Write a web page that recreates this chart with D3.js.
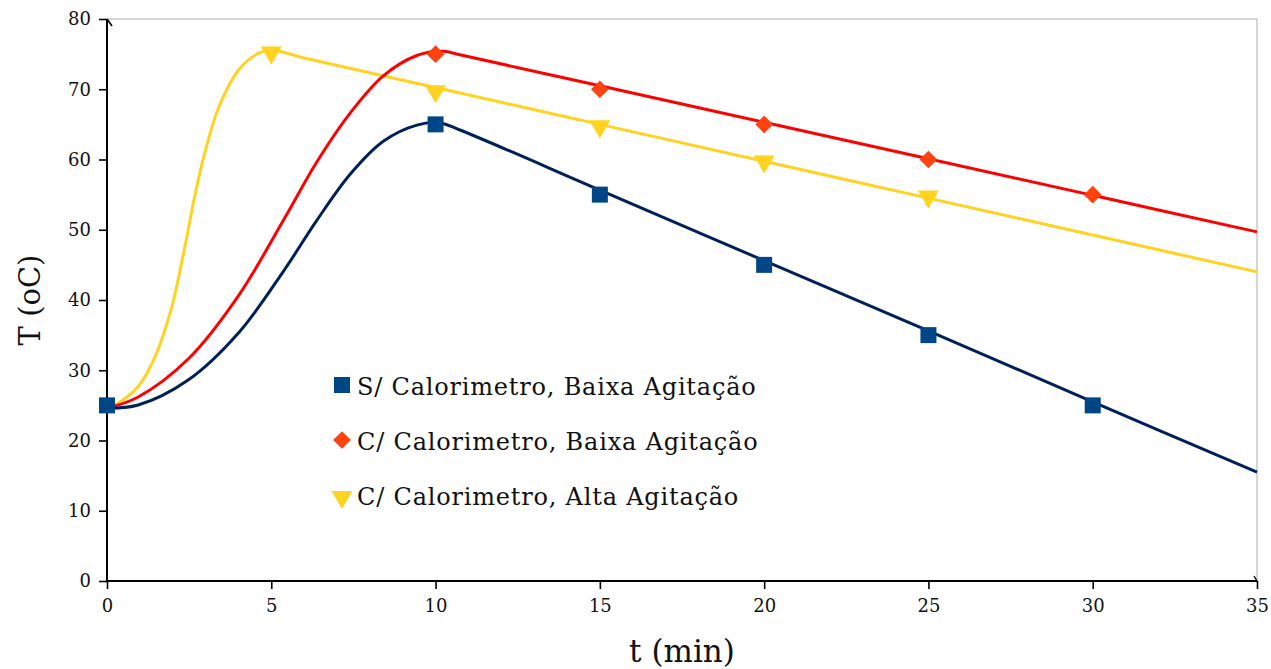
<!DOCTYPE html>
<html>
<head>
<meta charset="utf-8">
<script src="https://cdn.jsdelivr.net/npm/d3@7"></script>
<style>
  body { margin: 0; background: #fff; }
  svg text { font-family: "DejaVu Serif", serif; fill: #111; }
</style>
</head>
<body>
<svg id="chart" width="1271" height="669"></svg>
<script>
// measured points (markers)
const tSemBaixa = [0, 10, 15, 20, 25, 30];
const TSemBaixa = [25, 65, 55, 45, 35, 25];
const tComBaixa = [10, 15, 20, 25, 30];
const TComBaixa = [75, 70, 65, 60, 55];
const tComAlta = [5, 10, 15, 20, 25];
const TComAlta = [75.5, 70, 65, 60, 55];

// smoothed curves
const curveSemBaixa = [[0, 24.6], [0.95, 25.05], [2.47, 28.6], [4.0, 35.3], [5.4, 44.3], [6.38, 51.3], [7.4, 57.9],
  [8.41, 62.6], [9.43, 64.9], [10.13, 65.2], [10.74, 64.2], [15, 55.65], [20, 45.6], [25, 35.6], [30, 25.5], [35, 15.5]];
const curveComBaixa = [[0, 24.6], [0.95, 26.2], [2.47, 31.6], [4.0, 40.6], [5.4, 51.6], [6.38, 59.6], [7.4, 66.6],
  [8.41, 71.9], [9.43, 74.8], [10.24, 75.4], [10.74, 74.9], [15, 70.5], [20, 65.3], [25, 60.1], [30, 54.9], [35, 49.7]];
const curveComAlta = [[0, 24.6], [0.24, 25.05], [0.95, 27.7], [1.46, 31.9], [1.97, 39.0], [2.37, 47.6], [2.68, 55.0],
  [2.98, 61.0], [3.39, 67.3], [4.0, 72.7], [4.6, 75.1], [5.01, 75.6], [6, 74.45], [10, 70.25], [15, 65.0],
  [20, 59.75], [25, 54.5], [30, 49.25], [35, 44]];

const xTicks = [0, 5, 10, 15, 20, 25, 30, 35];
const yTicks = [0, 10, 20, 30, 40, 50, 60, 70, 80];
const seriesNames = ["S/ Calorimetro, Baixa Agitação", "C/ Calorimetro, Baixa Agitação", "C/ Calorimetro, Alta Agitação"];

const svg = d3.select("#chart");
const mLeft = 107, mRight = 1257, mTop = 19, mBottom = 581;

let x = d3.scaleLinear().domain([0, 35]).range([mLeft, mRight]);
let y = d3.scaleLinear().domain([0, 80]).range([mBottom, mTop]);

// light frame (top and right)
svg.append("line").attr("x1", mLeft).attr("x2", mRight).attr("y1", mTop).attr("y2", mTop)
  .attr("stroke", "#c8c8c8").attr("stroke-width", 1.5);
svg.append("line").attr("x1", mRight).attr("x2", mRight).attr("y1", mTop).attr("y2", mBottom)
  .attr("stroke", "#c8c8c8").attr("stroke-width", 1.5);

// axes
let yAxis = svg.append("g").attr("transform", `translate(${mLeft},0)`)
  .call(d3.axisLeft(y).tickValues(yTicks).tickSize(8).tickPadding(8));
let xAxis = svg.append("g").attr("transform", `translate(0,${mBottom})`)
  .call(d3.axisBottom(x).tickValues(xTicks).tickSize(8).tickPadding(10));
[xAxis, yAxis].forEach(a => {
  a.select(".domain").remove();
  a.selectAll("line").attr("stroke", "#000").attr("stroke-width", 1.6);
  a.selectAll("text").style("font-family", '"DejaVu Serif", serif').attr("font-size", 18).attr("fill", "#111");
});
svg.append("line").attr("x1", mLeft).attr("x2", mLeft).attr("y1", mTop).attr("y2", mBottom + 1)
  .attr("stroke", "#000").attr("stroke-width", 2);
svg.append("line").attr("x1", mLeft - 1).attr("x2", mRight).attr("y1", mBottom).attr("y2", mBottom)
  .attr("stroke", "#000").attr("stroke-width", 2);
// little arrow tips
svg.append("path").attr("d", `M${mLeft},${mTop} l5,7`).attr("stroke", "#000").attr("stroke-width", 1.6).attr("fill", "none");
svg.append("path").attr("d", `M${mRight},${mBottom} l-3,-5`).attr("stroke", "#000").attr("stroke-width", 1.4).attr("fill", "none");

// curves
let lineGen = d3.line().x(d => x(d[0])).y(d => y(d[1])).curve(d3.curveCatmullRom.alpha(0.5));
const curves = [
  { pts: curveSemBaixa, color: "#002157" },
  { pts: curveComBaixa, color: "#ff0000" },
  { pts: curveComAlta, color: "#ffd320" }
];
// draw order: yellow under red under navy
[curves[2], curves[1], curves[0]].forEach(c => {
  svg.append("path").attr("d", lineGen(c.pts)).attr("fill", "none")
    .attr("stroke", c.color).attr("stroke-width", 3);
});

// markers
const sq = d3.symbol().type(d3.symbolSquare).size(256);
const dia = d3.symbol().type(d3.symbolDiamond2).size(200);
const tri = d3.symbol().type(d3.symbolTriangle).size(190);

svg.selectAll(".mSq").data(tSemBaixa).enter().append("path")
  .attr("d", sq).attr("fill", "#004586")
  .attr("transform", (d, i) => `translate(${x(d)},${y(TSemBaixa[i])})`);
svg.selectAll(".mDia").data(tComBaixa).enter().append("path")
  .attr("d", dia).attr("fill", "#ff420e")
  .attr("transform", (d, i) => `translate(${x(d)},${y(TComBaixa[i])})`);
svg.selectAll(".mTri").data(tComAlta).enter().append("path")
  .attr("d", tri).attr("fill", "#ffd320")
  .attr("transform", (d, i) => `translate(${x(d)},${y(TComAlta[i]) + 2}) rotate(180)`);

// legend
const legendSyms = [
  { sym: sq, color: "#004586", rot: 0 },
  { sym: dia, color: "#ff420e", rot: 0 },
  { sym: tri, color: "#ffd320", rot: 180 }
];
let legend = svg.append("g");
seriesNames.forEach((name, i) => {
  let cy = 385 + i * 55;
  legend.append("path").attr("d", legendSyms[i].sym)
    .attr("fill", legendSyms[i].color)
    .attr("transform", `translate(342,${cy + (i == 2 ? 2 : 0)}) rotate(${legendSyms[i].rot})`);
  legend.append("text").attr("x", 357).attr("y", cy + 10)
    .attr("font-size", 24).attr("letter-spacing", 0.8).text(name);
});

// axis titles
svg.append("text").attr("x", 682).attr("y", 662).attr("text-anchor", "middle")
  .attr("font-size", 31).text("t (min)");
svg.append("text").attr("transform", "translate(40,300) rotate(-90)").attr("text-anchor", "middle")
  .attr("font-size", 29).text("T (oC)");
</script>
</body>
</html>
